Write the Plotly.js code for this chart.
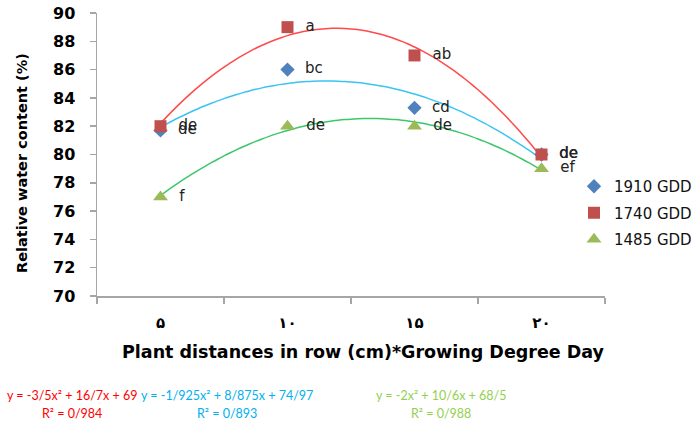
<!DOCTYPE html>
<html><head><meta charset="utf-8">
<script src="https://cdn.plot.ly/plotly-3.0.1.min.js"></script>
<style>body{margin:0;background:#fff}</style>
</head><body><div id="chart" style="width:696px;height:425px"></div>
<script>
// ---- data ----
const xPos = [1, 2, 3, 4];
const xLabels = ['۵', '۱۰', '۱۵', '۲۰'];
const seriesNames = ['1910 GDD', '1740 GDD', '1485 GDD'];
const gdd1910 = [81.7, 86, 83.3, 80];
const gdd1740 = [82, 89, 87, 80];
const gdd1485 = [77, 82, 82, 79];
const letters1910 = ['de', 'bc', 'cd', 'de'];
const letters1740 = ['de', 'a', 'ab', 'de'];
const letters1485 = ['f', 'de', 'de', 'ef'];
// quadratic trendline coefficients printed under the chart (a, b, c)
const coef1910 = [-1.925, 8.875, 74.97];
const coef1740 = [-3.5, 16.7, 69];
const coef1485 = [-2, 10.6, 68.5];
const eqText1910 = ['y = -1/925x² + 8/875x + 74/97', 'R² = 0/893'];
const eqText1740 = ['y = -3/5x² + 16/7x + 69', 'R² = 0/984'];
const eqText1485 = ['y = -2x² + 10/6x + 68/5', 'R² = 0/988'];

// ---- styling ----
const markerCol = ['#4F81BD', '#C0504D', '#9BBB59'];
const lineCol = ['#3BC4F2', '#FF4A4A', '#3CC76A'];
const eqCol = ['#00B0F0', '#FF0000', '#92D050'];
const symbols = ['diamond', 'square', 'triangle-up'];
const msize = [11, 12, 13];
const L = 97, T = 13, R = 91, B = 129, W = 696, H = 425;
const pw = W - L - R, ph = H - T - B;
const px = v => (v - L) / pw, py = v => (H - B - v) / ph;
const pad = s => '\u00a0\u00a0' + s;

function curve(c) {
  const xs = [], ys = [];
  for (let i = 0; i <= 60; i++) {
    const x = 1 + i * 0.05;
    xs.push(x); ys.push(c[0] * x * x + c[1] * x + c[2]);
  }
  return {xs, ys};
}

const vals = [gdd1910, gdd1740, gdd1485];
const lets = [letters1910, letters1740, letters1485];
const coefs = [coef1910, coef1740, coef1485];
const traces = [];
coefs.forEach((c, i) => {
  const cv = curve(c);
  traces.push({x: cv.xs, y: cv.ys, mode: 'lines', showlegend: false, hoverinfo: 'skip',
    line: {color: lineCol[i], width: 1.5, shape: 'spline'}});
});
vals.forEach((v, i) => {
  traces.push({x: xPos, y: v, mode: 'markers+text', name: seriesNames[i], legendgroup: 'g' + i,
    text: lets[i].map(pad), textposition: 'middle right',
    textfont: {family: 'DejaVu Sans, sans-serif', size: 15, color: '#222'},
    marker: {symbol: symbols[i], size: msize[i], color: markerCol[i]}, cliponaxis: false});
});

const eqs = [eqText1740, eqText1910, eqText1485];
const eqCenters = [72, 227, 441];
const eqColsOrdered = [eqCol[1], eqCol[0], eqCol[2]];
const eqFont = 'Lato, sans-serif';
const annotations = [];
eqs.forEach((e, i) => {
  annotations.push({xref: 'paper', yref: 'paper', x: px(eqCenters[i]), y: py(395),
    xanchor: 'center', yanchor: 'middle', showarrow: false, text: e[0],
    font: {family: eqFont, size: 12.5, color: eqColsOrdered[i]}});
  annotations.push({xref: 'paper', yref: 'paper', x: px(eqCenters[i]), y: py(413),
    xanchor: 'center', yanchor: 'middle', showarrow: false, text: e[1],
    font: {family: eqFont, size: 12.5, color: eqColsOrdered[i]}});
});
annotations.push({xref: 'paper', yref: 'paper', x: px(363), y: py(352),
  xanchor: 'center', yanchor: 'middle', showarrow: false,
  text: '<b>Plant distances in row (cm)*Growing Degree Day</b>',
  font: {family: 'DejaVu Sans, sans-serif', size: 17.5, color: '#000'}});
annotations.push({xref: 'paper', yref: 'paper', x: px(22), y: py(163), textangle: -90,
  xanchor: 'center', yanchor: 'middle', showarrow: false,
  text: '<b>Relative water content (%)</b>',
  font: {family: 'DejaVu Sans, sans-serif', size: 14.5, color: '#000'}});

const layout = {
  width: W, height: H,
  margin: {l: L, r: R, t: T, b: B, autoexpand: false},
  paper_bgcolor: '#fff', plot_bgcolor: '#fff',
  showlegend: true,
  legend: {x: px(574), xanchor: 'left', y: py(170), yanchor: 'top',
    tracegroupgap: 4, font: {family: 'DejaVu Sans, sans-serif', size: 15, color: '#111'},
    bgcolor: 'rgba(0,0,0,0)'},
  xaxis: {range: [0.5, 4.5], tickvals: xPos, ticktext: xLabels, ticks: '', showgrid: false, zeroline: false,
    showline: true, linecolor: '#A6A6A6', linewidth: 1.5, ticklabelstandoff: 12,
    tickfont: {family: 'DejaVu Sans, sans-serif', size: 15, color: '#000', weight: 'bold'},
    minor: {tickvals: [0.5, 1.5, 2.5, 3.5, 4.5], ticks: 'outside', ticklen: 6, tickcolor: '#A6A6A6', tickwidth: 1.5}},
  yaxis: {range: [70, 90], dtick: 2, ticks: 'outside', ticklen: 6, tickcolor: '#A6A6A6', tickwidth: 1.5,
    showgrid: false, zeroline: false, showline: true, linecolor: '#A6A6A6', linewidth: 1.5,
    ticklabelstandoff: 11,
    tickfont: {family: 'DejaVu Sans, sans-serif', size: 16, color: '#000', weight: 'bold'}},
  annotations: annotations
};
Plotly.newPlot('chart', traces, layout, {displayModeBar: false, staticPlot: true});
</script></body></html>
